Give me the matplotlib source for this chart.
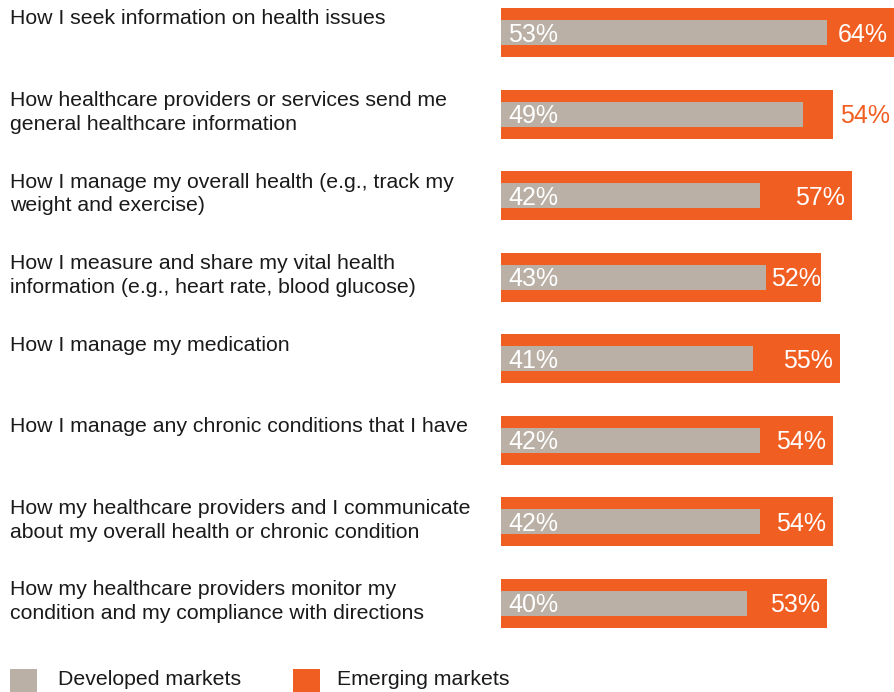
import matplotlib
matplotlib.use("Agg")
import matplotlib.pyplot as plt
from matplotlib import transforms
from matplotlib.patches import Rectangle

categories = [
    "How I seek information on health issues",
    "How healthcare providers or services send me\ngeneral healthcare information",
    "How I manage my overall health (e.g., track my\nweight and exercise)",
    "How I measure and share my vital health\ninformation (e.g., heart rate, blood glucose)",
    "How I manage my medication",
    "How I manage any chronic conditions that I have",
    "How my healthcare providers and I communicate\nabout my overall health or chronic condition",
    "How my healthcare providers monitor my\ncondition and my compliance with directions",
]
developed = [53, 49, 42, 43, 41, 42, 42, 40]
emerging = [64, 54, 57, 52, 55, 54, 54, 53]
series_names = ["Developed markets", "Emerging markets"]

ORANGE = "#F15E22"
GREY = "#BAB0A5"
TEXT = "#1a1a1a"
FONT = "Liberation Sans"

W, H = 894, 692
fig = plt.figure(figsize=(W / 100, H / 100), dpi=100)

# bar axes: x from 501px to 895px maps 0..64
x0 = 501 / W
ax = fig.add_axes([x0, 0, (895 - 501) / W, 1])
ax.set_xlim(0, 64)
pitch = 81.57
top_c = 32.5
ax.set_ylim((H - top_c) / pitch, -top_c / pitch)
ax.axis("off")

ys = list(range(len(categories)))
ax.barh(ys, emerging, height=49 / pitch, color=ORANGE, left=0)
ax.barh(ys, developed, height=25 / pitch, color=GREY, left=0)

px = 64 / 394  # data units per pixel
base_off = transforms.offset_copy(ax.transData, fig=fig, x=0, y=-9, units="dots")
for y, d, e in zip(ys, developed, emerging):
    ax.text(7 * px, y, f"{d}%", transform=base_off, ha="left", va="baseline",
            color="white", fontsize=18, family=FONT)
    if e - d <= 5:
        ax.text(e + 7 * px, y, f"{e}%", transform=base_off, ha="left", va="baseline",
                color=ORANGE, fontsize=18, family=FONT)
    else:
        xc = max(e - 32 * px, d + 30 * px)
        ax.text(xc, y, f"{e}%", transform=base_off, ha="center", va="baseline",
                color="white", fontsize=18, family=FONT)

# category labels
tr = transforms.blended_transform_factory(fig.transFigure, ax.transData)
for y, c in zip(ys, categories):
    ax.text(10 / W, y - 24.5 / pitch + 1.5 / pitch, c, transform=tr, ha="left", va="top",
            color=TEXT, fontsize=15.3, family=FONT, linespacing=1.32)

# legend
for (sx, col, tx, name) in [(10, GREY, 58, series_names[0]), (293, ORANGE, 337, series_names[1])]:
    fig.patches.append(Rectangle((sx / W, 0), 27 / W, 23 / H, transform=fig.transFigure,
                                 facecolor=col, edgecolor="none"))
    fig.text(tx / W, 7 / H, name, ha="left", va="baseline", color=TEXT,
             fontsize=15.3, family=FONT)

fig.savefig("out.png", dpi=100)
